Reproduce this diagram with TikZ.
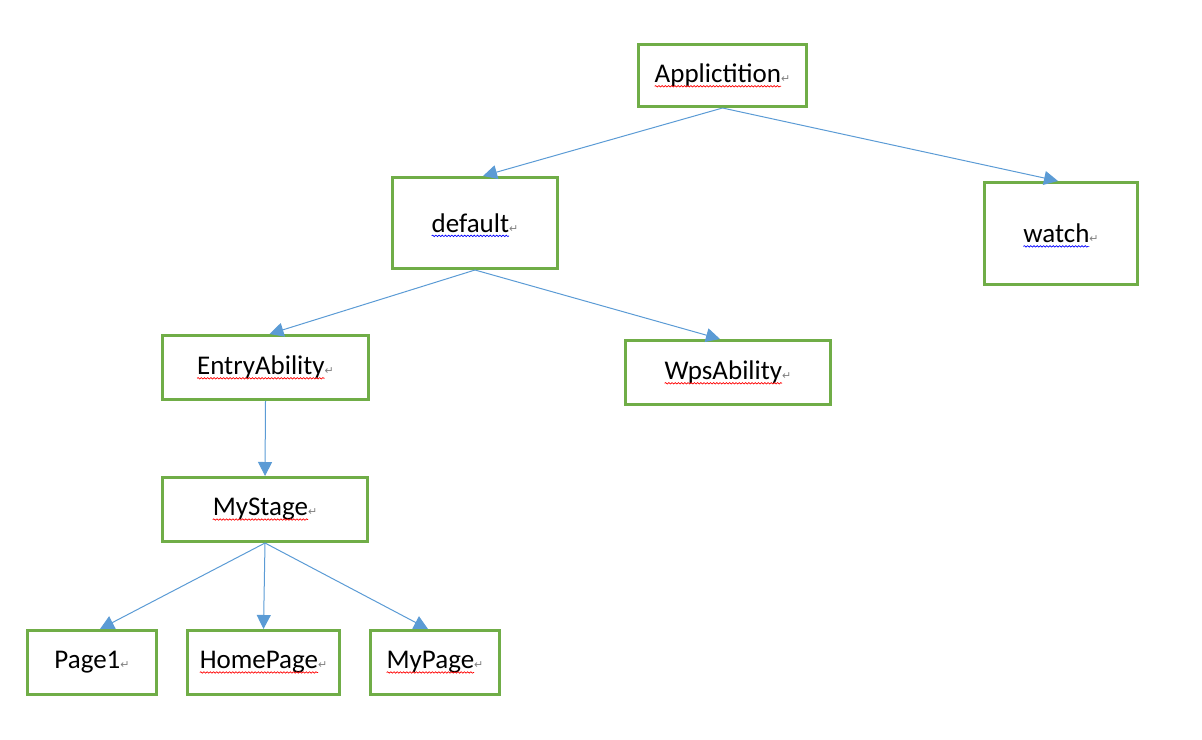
\documentclass[tikz,border=0pt]{standalone}
\usepackage{fontspec}
\setmainfont{Carlito}
\newfontfamily\symfont{DejaVu Sans}
\usetikzlibrary{arrows.meta,decorations.pathmorphing}
\definecolor{boxgreen}{HTML}{70AD47}
\definecolor{linkblue}{HTML}{5B9BD5}
\newcommand\wavy[2]{\tikz[baseline=(w.base)]{\node[draw=none, inner sep=0pt, outer sep=0pt, minimum width=0pt, minimum height=0pt] (w) {#2};
  \draw[overlay, #1, line width=0.35pt, decorate, decoration={snake, amplitude=0.35pt, segment length=1.6pt}]
    ([yshift=-1.8pt]w.base west) -- ([yshift=-1.8pt]w.base east);}}
\newcommand\pmark{{\symfont\fontsize{5.5}{5.5}\selectfont\textcolor{gray}{↵}}}

\begin{document}
\begin{tikzpicture}[x=0.5pt,y=-0.5pt,
  box/.style={draw=boxgreen, line width=1.5pt, inner sep=0pt, font=\fontsize{13.5}{15}\selectfont},
  link/.style={draw=linkblue, line width=0.5pt, -{Triangle[length=7pt,width=7pt]}, linkblue}]
\useasboundingbox (0,0) rectangle (1202,739);
\node[box, minimum width=84pt, minimum height=31pt] (app) at (722.5,75.5) {\wavy{red}{Applictition}\pmark};
\node[box, minimum width=82.5pt, minimum height=45.5pt] (def) at (475,223) {\wavy{blue}{default}\pmark};
\node[box, minimum width=76.5pt, minimum height=51pt] (watch) at (1061,233.5) {\wavy{blue}{watch}\pmark};
\node[box, minimum width=103pt, minimum height=32pt] (entry) at (265.5,367.5) {\wavy{red}{EntryAbility}\pmark};
\node[box, minimum width=102.5pt, minimum height=32pt] (wps) at (728,372.5) {\wavy{red}{WpsAbility}\pmark};
\node[box, minimum width=102.5pt, minimum height=32pt] (stage) at (265,509.5) {\wavy{red}{MyStage}\pmark};
\node[box, minimum width=64.5pt, minimum height=32pt] (page1) at (92,662.5) {Page1\pmark};
\node[box, minimum width=76pt, minimum height=32pt] (home) at (263.5,662.5) {\wavy{red}{HomePage}\pmark};
\node[box, minimum width=64.5pt, minimum height=32pt] (mypage) at (435,662.5) {\wavy{red}{MyPage}\pmark};
% arrows
\draw[link] (app.south) -- ([xshift=4pt]def.north);
\draw[link] (app.south) -- ([xshift=-1.5pt]watch.north);
\draw[link] (def.south) -- ([xshift=2pt]entry.north);
\draw[link] (def.south) -- ([xshift=-4pt]wps.north);
\draw[link] (entry.south) -- (stage.north);
\draw[link] (stage.south) -- ([xshift=4pt]page1.north);
\draw[link] (stage.south) -- (home.north);
\draw[link] (stage.south) -- ([xshift=-3.5pt]mypage.north);
\end{tikzpicture}
\end{document}
